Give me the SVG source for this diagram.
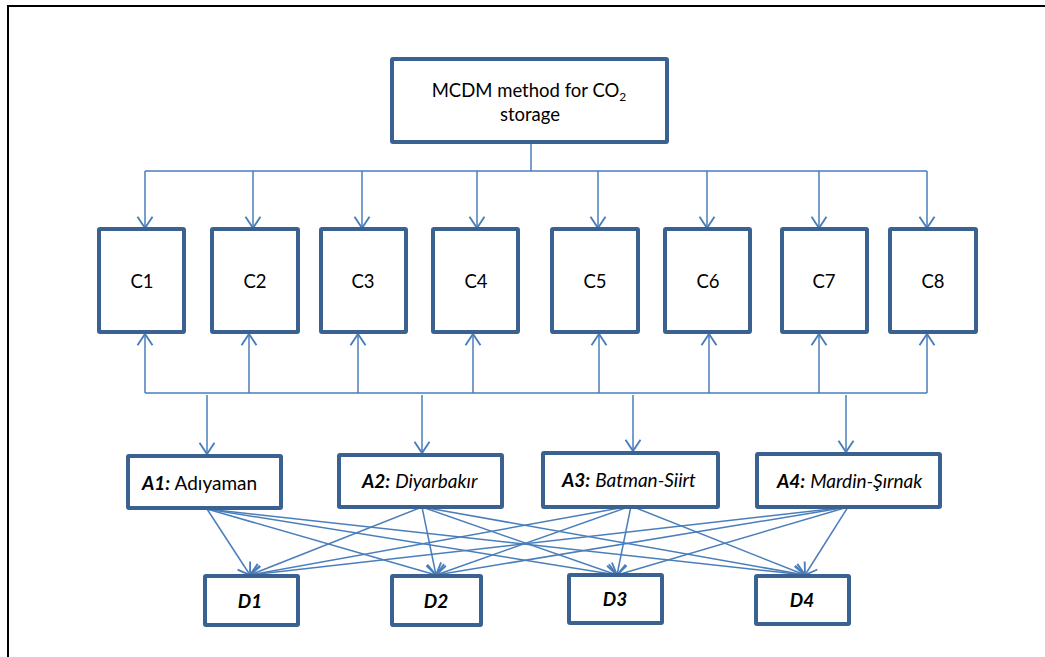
<svg xmlns="http://www.w3.org/2000/svg" width="1045" height="657" viewBox="0 0 1045 657">
<defs>
<marker id="ah" markerUnits="userSpaceOnUse" markerWidth="20" markerHeight="20" viewBox="-12 -8 14 16" refX="0" refY="0" orient="auto">
<path d="M-9,-6 L0,0 L-9,6" fill="none" stroke="#4A7EBB" stroke-width="1.5"/>
</marker>
<style>
.box{fill:#fff;stroke:#3B6190;stroke-width:4;}
.ln{fill:none;stroke:#4A7EBB;stroke-width:1.5;}
.arr{fill:none;stroke:#4A7EBB;stroke-width:1.5;marker-end:url(#ah);}
text{font-family:Lato,"Liberation Sans",sans-serif;fill:#000;}
.c{font-size:18.5px;text-anchor:middle;}
.a{font-size:19px;}
.d{font-size:19px;font-weight:bold;font-style:italic;text-anchor:middle;}
.bi{font-weight:bold;font-style:italic;}
.it{font-style:italic;}
</style>
</defs>
<rect x="8" y="6" width="1100" height="700" fill="#fff" stroke="#000" stroke-width="2"/>

<g id="connectors">
<path class="ln" d="M531,142 V171 M145,171 H927 M145,393 H927"/>
<path class="arr" d="M145,171 V228"/>
<path class="arr" d="M253,171 V228"/>
<path class="arr" d="M362,171 V228"/>
<path class="arr" d="M477,171 V228"/>
<path class="arr" d="M598,171 V228"/>
<path class="arr" d="M707,171 V228"/>
<path class="arr" d="M819,171 V228"/>
<path class="arr" d="M927,171 V228"/>
<path class="arr" d="M145,393 V334"/>
<path class="arr" d="M249,393 V334"/>
<path class="arr" d="M358,393 V334"/>
<path class="arr" d="M473,393 V334"/>
<path class="arr" d="M599,393 V334"/>
<path class="arr" d="M709,393 V334"/>
<path class="arr" d="M819,393 V334"/>
<path class="arr" d="M927,393 V334"/>
<path class="arr" d="M207,395 V454"/>
<path class="arr" d="M422,395 V453"/>
<path class="arr" d="M633,395 V451"/>
<path class="arr" d="M846,395 V452"/>
<path class="arr" d="M207,509 L250,575"/>
<path class="arr" d="M207,509 L436,575"/>
<path class="arr" d="M207,509 L617,575"/>
<path class="arr" d="M207,509 L805,575"/>
<path class="arr" d="M422,507 L250,575"/>
<path class="arr" d="M422,507 L436,575"/>
<path class="arr" d="M422,507 L617,575"/>
<path class="arr" d="M422,507 L805,575"/>
<path class="arr" d="M631,506 L250,575"/>
<path class="arr" d="M631,506 L436,575"/>
<path class="arr" d="M631,506 L617,575"/>
<path class="arr" d="M631,506 L805,575"/>
<path class="arr" d="M848,507 L250,575"/>
<path class="arr" d="M848,507 L436,575"/>
<path class="arr" d="M848,507 L617,575"/>
<path class="arr" d="M848,507 L805,575"/>
</g>

<g id="root">
<rect class="box" x="392" y="59" width="275" height="83" rx="1"/>
<text x="529" y="97" style="font-size:18.5px;text-anchor:middle;">MCDM method for CO<tspan font-size="12" dy="4">2</tspan></text>
<text x="530" y="121" style="font-size:18.5px;text-anchor:middle;">storage</text>
</g>

<g id="C1"><rect class="box" x="99" y="229" width="85" height="103" rx="1"/><text class="c" x="142" y="288">C1</text></g>
<g id="C2"><rect class="box" x="212" y="229" width="86" height="103" rx="1"/><text class="c" x="255" y="288">C2</text></g>
<g id="C3"><rect class="box" x="321" y="229" width="85" height="103" rx="1"/><text class="c" x="363" y="288">C3</text></g>
<g id="C4"><rect class="box" x="433" y="229" width="85" height="103" rx="1"/><text class="c" x="476" y="288">C4</text></g>
<g id="C5"><rect class="box" x="552" y="229" width="86" height="103" rx="1"/><text class="c" x="595" y="288">C5</text></g>
<g id="C6"><rect class="box" x="665" y="229" width="85" height="103" rx="1"/><text class="c" x="708" y="288">C6</text></g>
<g id="C7"><rect class="box" x="782" y="229" width="85" height="103" rx="1"/><text class="c" x="824" y="288">C7</text></g>
<g id="C8"><rect class="box" x="890" y="229" width="86" height="103" rx="1"/><text class="c" x="933" y="288">C8</text></g>

<g id="A1"><rect class="box" x="128" y="456" width="153" height="52" rx="1"/><text class="a" x="142" y="490"><tspan class="bi">A1:</tspan> Adıyaman</text></g>
<g id="A2"><rect class="box" x="339" y="455" width="163" height="52" rx="1"/><text class="a" x="362" y="488"><tspan class="bi">A2:</tspan> <tspan class="it">Diyarbakır</tspan></text></g>
<g id="A3"><rect class="box" x="543" y="453" width="175" height="54" rx="1"/><text class="a" x="562" y="487"><tspan class="bi">A3:</tspan> <tspan class="it">Batman-Siirt</tspan></text></g>
<g id="A4"><rect class="box" x="757" y="454" width="183" height="53" rx="1"/><text class="a" x="777" y="488"><tspan class="bi">A4:</tspan> <tspan class="it">Mardin-Şırnak</tspan></text></g>

<g id="D1"><rect class="box" x="205" y="576" width="93" height="49" rx="1"/><text class="d" x="250" y="608">D1</text></g>
<g id="D2"><rect class="box" x="392" y="576" width="89" height="49" rx="1"/><text class="d" x="436" y="608">D2</text></g>
<g id="D3"><rect class="box" x="569" y="575" width="93" height="48" rx="1"/><text class="d" x="615" y="606">D3</text></g>
<g id="D4"><rect class="box" x="756" y="576" width="93" height="48" rx="1"/><text class="d" x="802" y="607">D4</text></g>
</svg>
